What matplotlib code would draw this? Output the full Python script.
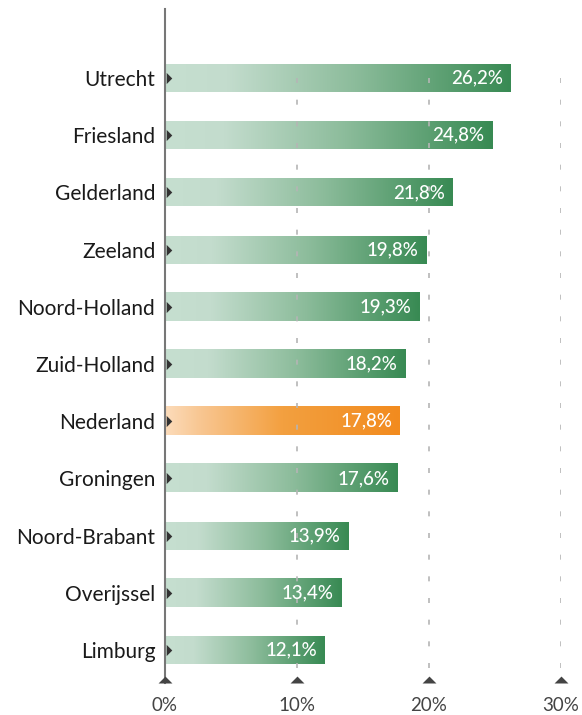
import matplotlib
matplotlib.use("Agg")
import matplotlib.pyplot as plt
import numpy as np
from matplotlib.colors import LinearSegmentedColormap
from matplotlib import transforms

provinces = ["Utrecht", "Friesland", "Gelderland", "Zeeland", "Noord-Holland",
             "Zuid-Holland", "Nederland", "Groningen", "Noord-Brabant", "Overijssel", "Limburg"]
values = [26.2, 24.8, 21.8, 19.8, 19.3, 18.2, 17.8, 17.6, 13.9, 13.4, 12.1]
highlight = "Nederland"
xticks = [0, 10, 20, 30]
xticklabels = ["0%", "10%", "20%", "30%"]

plt.rcParams['font.family'] = ['Lato', 'DejaVu Sans']

green_cmap = LinearSegmentedColormap.from_list(
    "g", [(0, "#c6dfd0"), (0.18, "#c3dccd"), (0.55, "#8cbc9b"), (1, "#388a53")])
orange_cmap = LinearSegmentedColormap.from_list(
    "o", [(0, "#fcdcbb"), (0.15, "#f8c691"), (0.5, "#f3a040"), (1, "#f28b1e")])

fig = plt.figure(figsize=(5.82, 7.15), dpi=100)
ax = fig.add_axes([165/582, 1-683/715, (561-165)/582, (683-9)/715])

n = len(provinces)
ymax = n - 1 + (683-650)/57.2
ymin = -(78-9)/57.2
bh = 28/57.2

grad = np.linspace(0, 1, 256).reshape(1, -1)
for i, (p, v) in enumerate(zip(provinces, values)):
    cmap = orange_cmap if p == highlight else green_cmap
    ax.imshow(grad, cmap=cmap, aspect='auto',
              extent=[0, v, i + bh/2, i - bh/2], zorder=2, interpolation='bicubic')
    ax.text(v - 0.6, i, f"{v:.1f}%".replace(".", ","), color="white",
            ha="right", va="center", fontsize=13.5, fontweight="medium", zorder=4)

ax.set_xlim(0, 30)
ax.set_ylim(ymax, ymin)

for x in xticks[1:]:
    ax.plot([x, x], [0, ymax], color="#b5b5b5", lw=1.2, ls=(0, (3, 10)), zorder=3)

for s in ["top", "right", "bottom"]:
    ax.spines[s].set_visible(False)
ax.spines["left"].set_color("#777777")
ax.spines["left"].set_linewidth(1.5)

ax.set_yticks(range(n))
ax.set_yticklabels(provinces, fontsize=15, color="#1a1a1a")
ax.tick_params(axis="y", length=0, pad=7)
ax.set_xticks(xticks)
ax.set_xticklabels(xticklabels, fontsize=13.5, color="#444444")
ax.tick_params(axis="x", length=0, pad=10)

# right-pointing markers at bar start
rtri = [(-0.5, -1), (-0.5, 1), (0.5, 0), (-0.5, -1)]
off = transforms.offset_copy(ax.transData, fig=fig, x=4, y=0, units='dots')
ax.plot([0]*n, range(n), ls="none", marker=rtri, ms=8, mew=0, color="#333333",
        transform=off, zorder=5, clip_on=False)
# up-pointing markers at x ticks
utri = [(-1, 0), (1, 0), (0, 1), (-1, 0)]
trans = transforms.blended_transform_factory(ax.transData, ax.transAxes)
ax.plot(xticks, [0]*len(xticks), ls="none", marker=utri, ms=10, mew=0, color="#444444",
        transform=trans, zorder=5, clip_on=False)

fig.savefig("out.png", dpi=100)
